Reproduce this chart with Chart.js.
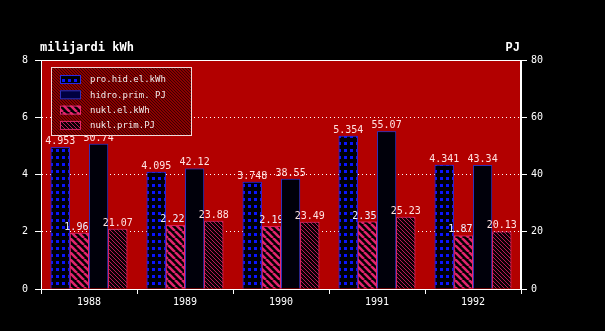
<!DOCTYPE html>
<html>
<head>
<meta charset="utf-8">
<script src="https://cdn.jsdelivr.net/npm/chart.js@4"></script>
<style>
  html, body { margin: 0; padding: 0; background: #000; }
  canvas { display: block; }
</style>
</head>
<body>
<canvas id="chartEnergija" width="605" height="331"></canvas>
<script>
const years = ["1988", "1989", "1990", "1991", "1992"];
const proHidElKwh = [4.953, 4.095, 3.748, 5.354, 4.341];
const nuklElKwh = [1.966, 2.225, 2.19, 2.354, 1.873];
const hidroPrimPJ = [50.74, 42.12, 38.55, 55.07, 43.34];
const nuklPrimPJ = [21.07, 23.88, 23.49, 25.23, 20.13];
const leftTitle = "milijardi kWh";
const rightTitle = "PJ";

const mono = "'DejaVu Sans Mono', 'Liberation Mono', monospace";
const plotRed = "#b20000";

function makeTile(w, h, paint) {
    const c = document.createElement("canvas");
    c.width = w; c.height = h;
    const g = c.getContext("2d");
    paint(g, w, h);
    return document.getElementById("chartEnergija").getContext("2d").createPattern(c, "repeat");
}

function hatch(bg, fg, size, lw) {
    return makeTile(size, size, (g, w, h) => {
        g.fillStyle = bg;
        g.fillRect(0, 0, w, h);
        g.strokeStyle = fg;
        g.lineWidth = lw;
        g.beginPath();
        for (let k = -w; k <= w; k += w) {
            g.moveTo(k, 0);
            g.lineTo(k + w, h);
        }
        g.stroke();
    });
}

const dotFill = makeTile(6, 7, (g) => {
    g.fillStyle = "#000008";
    g.fillRect(0, 0, 6, 7);
    g.fillStyle = "#0a14ff";
    g.fillRect(2, 2, 3, 3);
});
const nuklElFill = hatch("#000000", "#e0246c", 7, 2.6);
const nuklPrimFill = hatch("#0a0004", "#b81c58", 4, 1);
const legendFill = hatch("#8a0000", "#3a0000", 3, 1);

const labelColors = ["#ffe2e2", "#eef0ff", "#ffe2e2", "#ffe2e2"];

// frame, bars, labels, then the legend over them
const overlayPlugin = {
    id: "overlay",
    beforeDraw(chart) {
        const { ctx, chartArea: a } = chart;
        ctx.save();
        ctx.fillStyle = "#000";
        ctx.fillRect(0, 0, chart.width, chart.height);
        ctx.fillStyle = plotRed;
        ctx.fillRect(a.left, a.top, a.right - a.left, a.bottom - a.top);
        ctx.restore();
    },
    afterDatasetsDraw(chart) {
        const ctx = chart.ctx;
        const a = chart.chartArea;
        ctx.save();
        chart.data.datasets.forEach((ds, i) => {
            const meta = chart.getDatasetMeta(i);
            meta.data.forEach(el => el.draw(ctx));
            ctx.font = "10px " + mono;
            ctx.fillStyle = labelColors[i];
            ctx.textAlign = "center";
            ctx.textBaseline = "alphabetic";
            meta.data.forEach((el, j) => {
                ctx.fillText(String(ds.data[j]), el.x, el.y - 3);
            });
        });

        // solid frame round the plot
        ctx.strokeStyle = "#fff";
        ctx.lineWidth = 1;
        ctx.setLineDash([]);
        ctx.strokeRect(a.left + 0.5, a.top + 0.5, a.right - a.left - 1, a.bottom - a.top);

        // legend box
        const bx = 51, by = 67, bw = 140, bh = 68;
        ctx.fillStyle = legendFill;
        ctx.fillRect(bx, by, bw, bh);
        ctx.strokeStyle = "#f2d8d8";
        ctx.strokeRect(bx + 0.5, by + 0.5, bw, bh);

        const order = [0, 2, 1, 3];
        ctx.font = "9px " + mono;
        ctx.textAlign = "left";
        ctx.textBaseline = "middle";
        order.forEach((idx, r) => {
            const ds = chart.data.datasets[idx];
            const cy = 79 + r * 15.3;
            ctx.fillStyle = idx === 2 ? "#000040" : ds.backgroundColor;
            ctx.fillRect(60, cy - 4, 21, 9);
            ctx.strokeStyle = ds.borderColor;
            ctx.strokeRect(60.5, cy - 3.5, 20, 8);
            ctx.fillStyle = "#f4eaea";
            ctx.fillText(ds.label, 90, cy + 1);
        });

        // axis titles
        ctx.font = "bold 12px " + mono;
        ctx.fillStyle = "#fff";
        ctx.textBaseline = "alphabetic";
        ctx.textAlign = "left";
        ctx.fillText(leftTitle, 40, 51);
        ctx.textAlign = "right";
        ctx.font = "bold 12px 'Liberation Mono', monospace";
        ctx.fillText(rightTitle, 520, 51);
        ctx.restore();
    }
};

new Chart(document.getElementById("chartEnergija"), {
    type: "bar",
    data: {
        labels: years,
        datasets: [
            {
                label: "pro.hid.el.kWh",
                data: proHidElKwh,
                yAxisID: "y",
                backgroundColor: dotFill,
                borderColor: "#2a2ae0",
                borderWidth: 1
            },
            {
                label: "nukl.el.kWh",
                data: nuklElKwh,
                yAxisID: "y",
                backgroundColor: nuklElFill,
                borderColor: "#e8286e",
                borderWidth: 1
            },
            {
                label: "hidro.prim. PJ",
                data: hidroPrimPJ,
                yAxisID: "y1",
                backgroundColor: "#00000a",
                borderColor: "#3030b8",
                borderWidth: 1
            },
            {
                label: "nukl.prim.PJ",
                data: nuklPrimPJ,
                yAxisID: "y1",
                backgroundColor: nuklPrimFill,
                borderColor: "#e0286a",
                borderWidth: 1
            }
        ]
    },
    options: {
        responsive: false,
        animation: false,
        devicePixelRatio: 1,
        layout: { padding: { top: 60, left: 0, right: 0, bottom: 0 } },
        plugins: {
            legend: { display: false },
            tooltip: { enabled: false }
        },
        datasets: {
            bar: { categoryPercentage: 0.8, barPercentage: 1.0 }
        },
        scales: {
            x: {
                grid: {
                    drawOnChartArea: false,
                    color: "#fff",
                    tickLength: 5
                },
                border: { color: "#fff" },
                ticks: {
                    color: "#fff",
                    font: { family: mono, size: 10 },
                    padding: 2,
                    maxRotation: 0
                },
                afterFit(s) { s.height = 42; }
            },
            y: {
                position: "left",
                min: 0,
                max: 8,
                ticks: {
                    stepSize: 2,
                    color: "#fff",
                    font: { family: mono, size: 10 },
                    padding: 7
                },
                grid: {
                    color: "#fff",
                    tickBorderDash: [],
                    tickColor: "#fff",
                    tickLength: 6
                },
                border: { color: "#fff", dash: [1, 3] },
                afterFit(s) { s.width = 41; }
            },
            y1: {
                position: "right",
                min: 0,
                max: 80,
                ticks: {
                    stepSize: 20,
                    color: "#fff",
                    font: { family: mono, size: 10 },
                    padding: 4
                },
                grid: {
                    drawOnChartArea: false,
                    tickColor: "#fff",
                    tickLength: 6
                },
                border: { color: "#fff" },
                afterFit(s) { s.width = 84; }
            }
        }
    },
    plugins: [overlayPlugin]
});
</script>
</body>
</html>
